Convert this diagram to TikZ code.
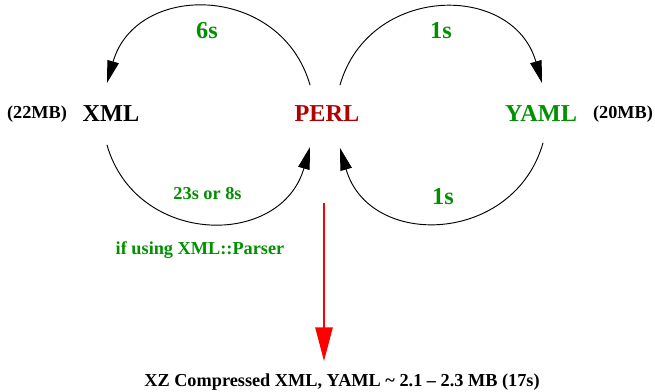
\documentclass[tikz,border=0pt]{standalone}
\usepackage{fontspec}
\setmainfont{Liberation Serif}
\usetikzlibrary{arrows.meta}
\definecolor{figgreen}{RGB}{0,144,0}
\definecolor{figred}{RGB}{176,0,0}
\begin{document}
\begin{tikzpicture}[x=0.3mm,y=0.3mm,line join=round,line cap=round,
 big/.style={font=\fontsize{20.7}{24}\selectfont\bfseries,anchor=base,inner sep=0pt},
 small/.style={font=\fontsize{15.6}{18}\selectfont\bfseries,anchor=base,inner sep=0pt},
 flow/.style={-{Triangle[length=19pt,width=10pt]},line width=0.8pt,looseness=1.33},
 dropline/.style={-{Triangle[length=29pt,width=14.5pt]},line width=2.5pt,red,line cap=butt}]
 \useasboundingbox (0,0) rectangle (655,391);
 % formats
 \node[small] (xmlsize) at (37,272) {(22MB)};
 \node[big] (xml) at (111,269) {XML};
 \node[big,text=figred] (perl) at (327,269) {PERL};
 \node[big,text=figgreen] (yaml) at (541,269) {YAML};
 \node[small] (yamlsize) at (623,272) {(20MB)};
 % times
 \node[big,text=figgreen] (tosix) at (207,352) {6s};
 \node[small,text=figgreen] (fromxml) at (207.5,191) {23s or 8s};
 \node[small,text=figgreen] (parser) at (200,136) {if using XML::Parser};
 \node[big,text=figgreen] (toyaml) at (441,352) {1s};
 \node[big,text=figgreen] (fromyaml) at (443,186) {1s};
 \node[small] (result) at (342,4.5) {XZ Compressed XML, YAML \textasciitilde\ 2.1 -- 2.3 MB (17s)};
 % conversions
 \draw[flow] ([shift={(-17,37)}]perl.base) to[out=106,in=74] ([shift={(-4,39)}]xml.base);
 \draw[flow] ([shift={(-4,-23)}]xml.base) to[out=286,in=254] ([shift={(-17,-25)}]perl.base);
 \draw[flow] ([shift={(13,37)}]perl.base) to[out=74,in=106] ([shift={(1,39)}]yaml.base);
 \draw[flow] ([shift={(2,-21)}]yaml.base) to[out=254,in=286] ([shift={(13,-26)}]perl.base);
 % compression
 \coordinate (src) at (324,188);
 \draw[dropline] (src) -- ([yshift=10.5]src |- result.north);
\end{tikzpicture}
\end{document}
